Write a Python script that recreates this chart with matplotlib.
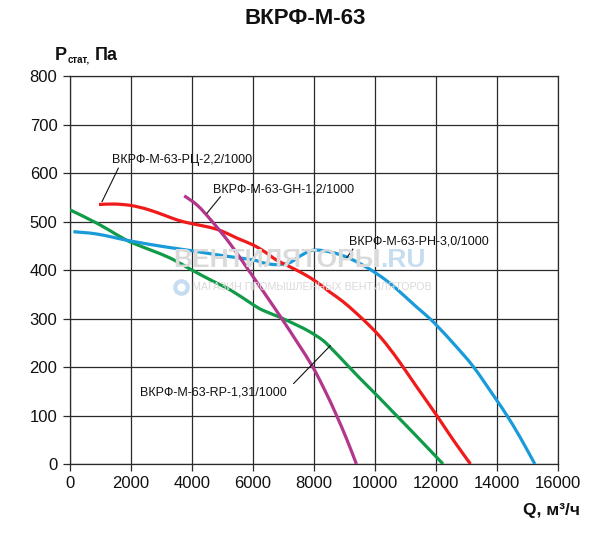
import matplotlib
matplotlib.use("Agg")
import matplotlib.pyplot as plt
from matplotlib.path import Path
from matplotlib.patches import PathPatch
from matplotlib.lines import Line2D

plt.rcParams['font.family'] = ['Liberation Sans', 'DejaVu Sans']

# ---- data ----
title = "ВКРФ-М-63"
x_ticks = [0, 2000, 4000, 6000, 8000, 10000, 12000, 14000, 16000]
y_ticks = [0, 100, 200, 300, 400, 500, 600, 700, 800]

red_name = "ВКРФ-М-63-РЦ-2,2/1000"
red_q = [950, 1450, 2000, 2540, 3090, 3525, 3960, 4510, 4950, 5500, 5990, 6374, 6760,
         7195, 7632, 8070, 8510, 8947, 9386, 9823, 10200, 10480, 10810, 11357, 12014, 12560, 13130]
red_p = [535, 536, 533, 525, 513, 503, 496, 489, 481, 465, 452, 438, 421,
         407, 393, 376, 355, 335, 311, 285, 260, 238, 210, 160, 101, 50, 0]

blue_name = "ВКРФ-М-63-РН-3,0/1000"
blue_q = [110, 898, 1971, 3088, 3965, 5060, 5990, 6320, 6760, 7195, 7524, 7908, 8290, 8730,
          9166, 9600, 10044, 10480, 10920, 11358, 11795, 12124, 12565, 13220, 13930, 14315, 14750, 15240]
blue_p = [479, 474, 460, 448, 440, 429, 421, 415, 411, 415, 428, 440, 440, 434,
          424, 410, 393, 373, 349, 324, 300, 279, 249, 201, 137, 101, 56, 0]

green_name = "ВКРФ-М-63-RP-1,31/1000"
green_q = [0, 898, 1554, 1971, 2650, 3308, 3965, 4623, 5280, 5990, 6320, 6866, 7415, 7852,
           8290, 8620, 9000, 9500, 10150, 10640, 11245, 12230]
green_p = [524, 496, 472, 458, 441, 424, 401, 379, 358, 329, 317, 303, 287, 273,
           255, 235, 210, 177, 136, 104, 65, 0]

mag_name = "ВКРФ-М-63-GH-1,2/1000"
mag_q = [3745, 4183, 4660, 5250, 5850, 6400, 6940, 7460, 7960, 8370, 8740, 9080, 9390]
mag_p = [553, 533, 500, 454, 400, 350, 300, 250, 200, 150, 100, 50, 0]

# ---- figure ----
W, H = 600, 543
fig = plt.figure(figsize=(W / 100, H / 100), dpi=100)
ax = fig.add_axes([70 / W, 1 - 464 / H, (558 - 70) / W, (464 - 76) / H])
ax.set_xlim(0, 16000)
ax.set_ylim(0, 800)
ax.set_xticks(x_ticks)
ax.set_yticks(y_ticks)
ax.set_xticklabels([str(v) for v in x_ticks])
ax.set_yticklabels([str(v) for v in y_ticks])
ax.tick_params(direction='out', length=5, width=0.9, color='#2a2a2a',
               labelsize=12, labelcolor='#111111', pad=4)
ax.grid(True, color='#2a2a2a', linewidth=0.9, zorder=1)
ax.set_axisbelow(True)
for s in ax.spines.values():
    s.set_color('#2a2a2a')
    s.set_linewidth(0.9)

# watermark
t1 = fig.text(173 / W, 1 - 260 / H, "ВЕНТИЛЯТОРЫ", fontsize=19, fontweight='bold',
              color='#dadada', ha='left', va='center', zorder=2)
fig.canvas.draw()
bb = t1.get_window_extent(fig.canvas.get_renderer())
fig.text(bb.x1 / W, 1 - 260 / H, ".RU", fontsize=19, fontweight='bold',
         color='#c6dcf0', ha='left', va='center', zorder=2)
fig.text(192 / W, 1 - 287 / H, "МАГАЗИН ПРОМЫШЛЕННЫХ ВЕНТИЛЯТОРОВ", fontsize=7.7,
         color='#d9d9d9', ha='left', va='center', zorder=2)
fig.lines.append(Line2D([181 / W], [1 - 287 / H], marker='o', markersize=9,
                        markerfacecolor='white', markeredgecolor='#c6dcf0',
                        markeredgewidth=3, transform=fig.transFigure, zorder=2))


def smooth_curve(qs, ps, color, z):
    # Catmull-Rom through the read points, drawn as cubic Bezier segments in axes coords
    pts = [(q / 16000, p / 800) for q, p in zip(qs, ps)]
    n = len(pts)
    verts = [pts[0]]
    codes = [Path.MOVETO]
    for i in range(n - 1):
        p0 = pts[i - 1] if i > 0 else pts[i]
        p1 = pts[i]
        p2 = pts[i + 1]
        p3 = pts[i + 2] if i + 2 < n else pts[i + 1]
        c1 = (p1[0] + (p2[0] - p0[0]) / 6, p1[1] + (p2[1] - p0[1]) / 6)
        c2 = (p2[0] - (p3[0] - p1[0]) / 6, p2[1] - (p3[1] - p1[1]) / 6)
        verts += [c1, c2, p2]
        codes += [Path.CURVE4] * 3
    patch = PathPatch(Path(verts, codes), facecolor='none', edgecolor=color, lw=2.3,
                      transform=ax.transAxes, zorder=z, capstyle='butt', joinstyle='round')
    ax.add_patch(patch)


smooth_curve(green_q, green_p, '#0f9b48', 3)
smooth_curve(blue_q, blue_p, '#1a9bd9', 3)
smooth_curve(red_q, red_p, '#f01a1a', 4)
smooth_curve(mag_q, mag_p, '#b2368b', 4)

# labels with leaders
lab_fs = 9


def label(txt, tx, ty, p0, p1):
    ax.text(tx, ty, txt, fontsize=lab_fs, color='#111111', ha='left', va='center', zorder=6)
    ax.plot([p0[0], p1[0]], [p0[1], p1[1]], color='#111111', lw=0.8, zorder=5)


label(red_name, 1390, 627, (1050, 541), (1585, 610))
label(mag_name, 4700, 567, (4490, 517), (4930, 551))
label(blue_name, 9145, 458, (9057, 424), (9275, 443))
label(green_name, 2280, 148, (7333, 166), (8535, 244))

# title
fig.text(305 / W, 1 - 18 / H, title, fontsize=16, fontweight='bold', ha='center', va='center',
         color='#111111')

# y label: P_стат, Па
p = fig.text(55 / W, 1 - 60 / H, "P", fontsize=13, fontweight='bold', ha='left',
             va='baseline', color='#111111')
fig.canvas.draw()
bb = p.get_window_extent(fig.canvas.get_renderer())
s = fig.text(bb.x1 / W + 1 / W, 1 - 62 / H, "стат,", fontsize=7, fontweight='bold',
             ha='left', va='baseline', color='#111111')
fig.canvas.draw()
bb = s.get_window_extent(fig.canvas.get_renderer())
fig.text(bb.x1 / W + 5 / W, 1 - 60 / H, "Па", fontsize=13, fontweight='bold',
         ha='left', va='baseline', color='#111111')

# x label
fig.text(580 / W, 1 - 515 / H, "Q, м³/ч", fontsize=12.5, fontweight='bold', ha='right',
         va='baseline', color='#111111')

fig.savefig("out.png", dpi=100)
